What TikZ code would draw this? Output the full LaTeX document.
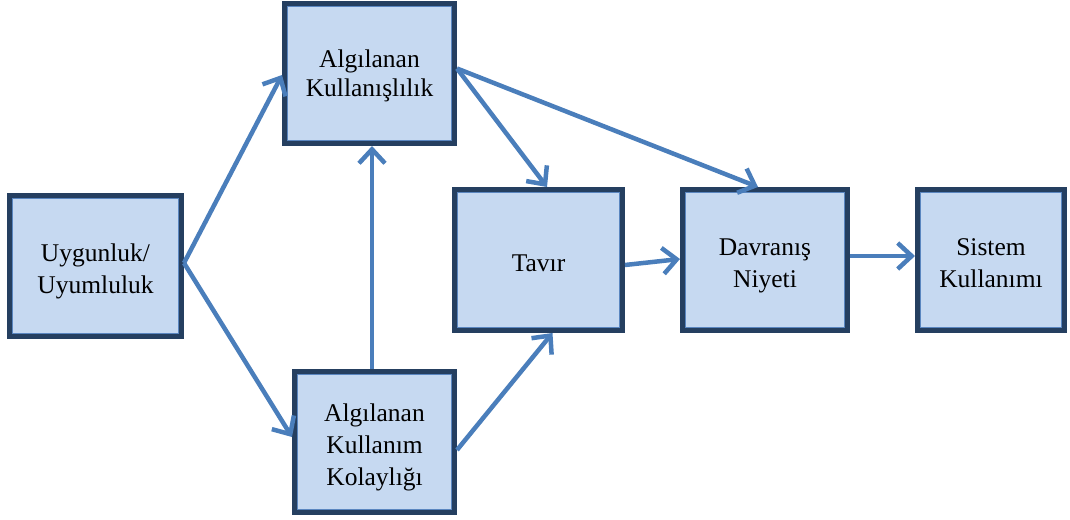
\documentclass[tikz,border=0pt]{standalone}
\usepackage{fontspec}
\setmainfont{Liberation Serif}
\newfontfamily\tnr{Liberation Serif}
\usetikzlibrary{arrows.meta,calc}
\definecolor{boxfill}{HTML}{C6D9F1}
\definecolor{boxdark}{HTML}{253F60}
\definecolor{boxinner}{HTML}{5A86C0}
\definecolor{arrowc}{HTML}{4A7EBB}
\newcommand\boxtext[2][-5pt]{\raisebox{#1}[\height][\depth]{\begin{tabular}{@{}c@{}}#2\end{tabular}}}
\tikzset{
  box/.style={draw=boxdark, line width=5pt, fill=boxfill,
    inner sep=0pt, font=\tnr\fontsize{25.5}{32}\selectfont,
    path picture={\draw[boxinner, line width=0.8pt]
      ([shift={(3pt,-3pt)}]path picture bounding box.north west) rectangle
      ([shift={(-3pt,3pt)}]path picture bounding box.south east);}},
  conn/.style={draw=arrowc, line width=4.5pt,
    -{Straight Barb[length=14pt,width=26pt,line width=4.5pt]}}
}
\begin{document}
\begin{tikzpicture}[x=1pt,y=-1pt]
\useasboundingbox (0,0) rectangle (1070,519);
\node[box, minimum width=172pt, minimum height=141pt] (b1) at (95.5,266) {\boxtext{Uygunluk/\\Uyumluluk}};
\node[box, minimum width=170pt, minimum height=140pt, font=\tnr\fontsize{25.5}{29}\selectfont] (b2) at (369.5,73.5) {\boxtext[-3pt]{Algılanan\\Kullanışlılık}};
\node[box, minimum width=160pt, minimum height=141pt] (b3) at (374.5,442) {\boxtext{Algılanan\\Kullanım\\Kolaylığı}};
\node[box, minimum width=168pt, minimum height=141pt] (tav) at (538.5,260) {\boxtext{Tavır}};
\node[box, minimum width=165pt, minimum height=141pt] (dav) at (765,260) {\boxtext{Davranış\\Niyeti}};
\node[box, minimum width=147pt, minimum height=141pt] (sis) at (991,260) {\boxtext{Sistem\\Kullanımı}};
\coordinate (s1) at ($(b1.east)+(0,-3)$);
\coordinate (s2) at ($(b2.east)+(0,-5)$);
\draw[conn] (s1) -- ($(b2.west)+(0,1.5)$);
\draw[conn] (s1) -- ($(b3.west)+(0,-5)$);
\draw[conn] ($(b3.north)+(-2.5,0)$) -- ($(b2.south)+(2.5,0)$);
\draw[conn] (s2) -- ($(tav.north)+(8.5,0)$);
\draw[conn] (s2) -- ($(dav.north)+(-7,0)$);
\draw[conn] ($(b3.east)+(0,8)$) -- ($(tav.south)+(14,0)$);
\draw[conn] ($(tav.east)+(0,5)$) -- ($(dav.west)+(0,-1)$);
\draw[conn] ($(dav.east)+(0,-4)$) -- ($(sis.west)+(0,-4)$);
\end{tikzpicture}
\end{document}
